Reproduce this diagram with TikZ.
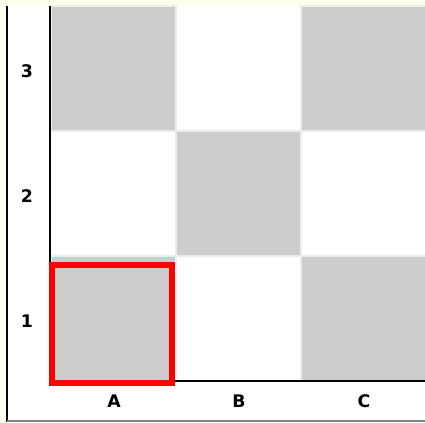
\documentclass[tikz,border=0pt]{standalone}
\usepackage{fontspec}
\setsansfont{DejaVu Sans}
\definecolor{PageClr}{RGB}{255,255,238}
\definecolor{CellClr}{RGB}{204,204,204}

\begin{document}
\begin{tikzpicture}[x=0.75pt,y=-0.75pt,
  cell/.style={fill=CellClr,draw=gray!15,line width=1.5pt},
  lbl/.style={font=\sffamily\bfseries\fontsize{13}{13}\selectfont,inner sep=0pt}]
\useasboundingbox (0,0) rectangle (425,422);
\clip (0,0) rectangle (425,422);
\fill[PageClr] (0,0) rectangle (425,422);
\fill[white] (7,6) rectangle (425,420);
\draw[line width=2pt] (7,6) -- (7,422);
\draw[gray,line width=1.5pt] (7,421) -- (425,421);

% board
\foreach \c/\r in {0/0,2/0,1/1,0/2,2/2}
  \draw[cell] ({51+125*\c},{6+125*\r}) rectangle +(125,125);

% axes
\coordinate (o) at (50,381);
\coordinate (top) at (50,6);
\coordinate (right) at (425,381);
\draw[line width=1.5pt] (top) -- (o) -- (right);

% selected square
\draw[red,line width=4pt] (52,265) rectangle (172,383);

% labels
\foreach \t [count=\i from 0] in {A,B,C}
  \node[lbl] (col\t) at ({114+125*\i},401) {\t};
\foreach \t [count=\i from 0] in {3,2,1}
  \node[lbl] (row\t) at (27,{71+125*\i}) {\t};
\end{tikzpicture}
\end{document}
